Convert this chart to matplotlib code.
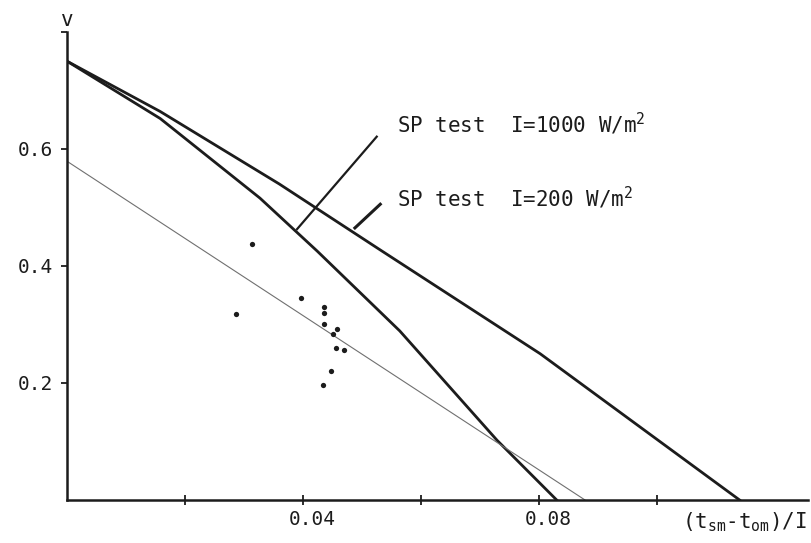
import numpy as np
import matplotlib
matplotlib.use('Agg')
import matplotlib.pyplot as plt
from matplotlib.transforms import ScaledTranslation

# Set plotting defaults
fs = 14
matplotlib.rc('font', family='DejaVu Sans Mono', size=fs)
plt.rcParams['mathtext.fontset'] = 'custom'
plt.rcParams['mathtext.rm'] = 'DejaVu Sans Mono'

# SP test curves
x_200 = [0.0, 0.0158, 0.036, 0.053, 0.0802, 0.114]
v_200 = [0.75, 0.664, 0.54, 0.428, 0.25, 0.0]

x_1000 = [0.0, 0.0158, 0.0327, 0.0424, 0.0564, 0.0729, 0.083]
v_1000 = [0.75, 0.652, 0.516, 0.4255, 0.289, 0.102, 0.0]

# thin fitted line
x_fit = [0.0, 0.0878]
v_fit = [0.579, 0.0]

# measured points
x_pts = [0.0314, 0.0397, 0.0286, 0.0436, 0.0436, 0.0436, 0.0458, 0.0451, 0.0456, 0.0469, 0.0447, 0.0434]
v_pts = [0.437, 0.3455, 0.318, 0.330, 0.320, 0.300, 0.293, 0.283, 0.259, 0.257, 0.221, 0.197]

# label pointer lines
x_arr1000 = [0.0525, 0.039]
v_arr1000 = [0.621, 0.463]
x_arr200 = [0.0531, 0.0488]
v_arr200 = [0.5055, 0.465]

xticks = [0.02, 0.04, 0.06, 0.08, 0.10]
xticklabels = ['', '0.04', '', '0.08', '']
yticks = [0.2, 0.4, 0.6, 0.8]
yticklabels = ['0.2', '0.4', '0.6', '']

ink = '#1c1c1c'
lw = 2

F1 = plt.figure(figsize=(8.12, 5.43), dpi=100)
ax = F1.add_axes([0.0825, 0.0792, 0.9126, 0.862])

ax.plot(x_200, v_200, '-', color=ink, lw=lw)
ax.plot(x_1000, v_1000, '-', color=ink, lw=lw)
ax.plot(x_fit, v_fit, '-', color='#707070', lw=0.8)
ax.plot(x_pts, v_pts, 'o', color=ink, markersize=3.8, markeredgewidth=0)
ax.plot(x_arr1000, v_arr1000, '-', color=ink, lw=1.6)
ax.plot(x_arr200, v_arr200, '-', color=ink, lw=2.2)

ax.text(0.0559, 0.642, 'SP test  I=1000 W/m$^{\\mathregular{2}}$', va='center', ha='left', color=ink, fontsize=15)
ax.text(0.0559, 0.516, 'SP test  I=200 W/m$^{\\mathregular{2}}$', va='center', ha='left', color=ink, fontsize=15)

ax.set_xlim((0, 0.1256))
ax.set_ylim((0, 0.8))
ax.set_xticks(xticks)
ax.set_xticklabels(xticklabels)
ax.set_yticks(yticks)
ax.set_yticklabels(yticklabels)
ax.tick_params(axis='x', direction='inout', length=7, width=1.3, colors=ink, pad=4)
ax.tick_params(axis='y', direction='out', length=4, width=1.3, colors=ink, pad=6)

# x labels sit a little right of their ticks in the original
shift = ScaledTranslation(9/100, 0, F1.dpi_scale_trans)
for lab in ax.get_xticklabels():
    lab.set_transform(lab.get_transform() + shift)

for axis in ['top', 'right']:
    ax.spines[axis].set_visible(False)
for axis in ['left', 'bottom']:
    ax.spines[axis].set_linewidth(1.8)
    ax.spines[axis].set_color(ink)

F1.text(67/812, 1 - 20/543, 'v', ha='center', va='center', color=ink, fontsize=15)
F1.text(807/812, 1 - 522/543, '(t$_{\\mathregular{sm}}$-t$_{\\mathregular{om}}$)/I', ha='right', va='center', color=ink, fontsize=15)

plt.savefig('out.png', dpi=100)
